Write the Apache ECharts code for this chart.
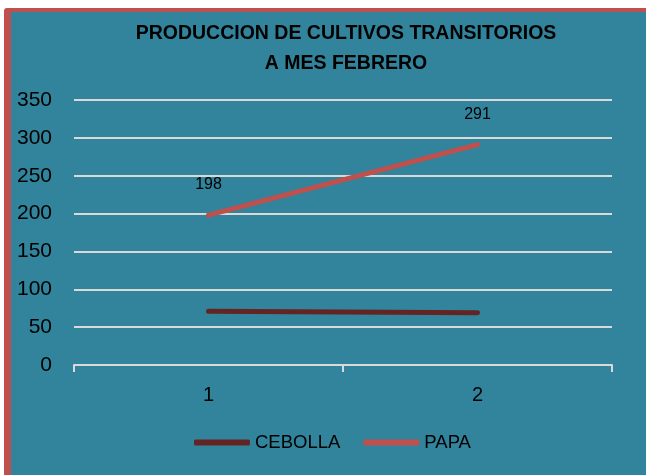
<!DOCTYPE html>
<html>
<head>
<meta charset="utf-8">
<script src="https://cdn.jsdelivr.net/npm/echarts@6/dist/echarts.min.js"></script>
<style>
html,body{margin:0;padding:0;background:#fff;}
#c{width:646px;height:475px;}
</style>
</head>
<body>
<div id="c"></div>
<script>
const categories = ['1', '2'];
const cebolla = [71, 69];
const papa = [198, 291];
const yTicks = [0, 50, 100, 150, 200, 250, 300, 350];

const chart = echarts.init(document.getElementById('c'), null, {renderer: 'canvas'});
const font = '"Liberation Sans", Arial, sans-serif';
chart.setOption({
  backgroundColor: '#ffffff',
  animation: false,
  graphic: [
    {type: 'rect', z: -10, shape: {x: 4, y: 8, width: 660, height: 480, r: 3}, style: {fill: '#C0504D'}},
    {type: 'rect', z: -9, shape: {x: 11, y: 12, width: 660, height: 480}, style: {fill: '#31849B'}}
  ],
  title: {
    text: 'PRODUCCION DE CULTIVOS TRANSITORIOS\nA MES FEBRERO',
    left: 341, top: 14, textAlign: 'center',
    textStyle: {fontFamily: font, fontWeight: 'bold', fontSize: 19.5, lineHeight: 30, color: '#000'}
  },
  legend: {
    left: 189, top: 428,
    itemWidth: 56, itemHeight: 6, itemGap: 23,
    icon: 'roundRect',
    textStyle: {fontFamily: font, fontSize: 18.5, color: '#000'},
    data: ['CEBOLLA', 'PAPA']
  },
  grid: {left: 74, right: 34, top: 100, bottom: 110, containLabel: false},
  xAxis: {
    type: 'category', data: categories, boundaryGap: true,
    axisLine: {lineStyle: {color: '#D9D9D9', width: 2}},
    axisTick: {show: true, length: 7, lineStyle: {color: '#D9D9D9', width: 2}},
    axisLabel: {fontFamily: font, fontSize: 20, color: '#000', margin: 20}
  },
  yAxis: {
    type: 'value', min: yTicks[0], max: yTicks[yTicks.length - 1], interval: 50,
    axisLine: {show: false}, axisTick: {show: false},
    splitLine: {lineStyle: {color: '#D9D9D9', width: 2}},
    axisLabel: {fontFamily: font, fontSize: 21, color: '#000', margin: 22}
  },
  series: [
    {
      name: 'CEBOLLA', type: 'line', data: cebolla,
      symbol: 'circle', symbolSize: 4, showSymbol: true,
      itemStyle: {color: '#632523'},
      lineStyle: {color: '#632523', width: 5, cap: 'round'}
    },
    {
      name: 'PAPA', type: 'line', data: papa,
      symbol: 'circle', symbolSize: 4, showSymbol: true,
      itemStyle: {color: '#C0504D'},
      lineStyle: {color: '#C0504D', width: 5, cap: 'round'},
      label: {show: true, position: 'top', distance: 20, fontFamily: font, fontSize: 16, color: '#000'}
    }
  ]
});
</script>
</body>
</html>
